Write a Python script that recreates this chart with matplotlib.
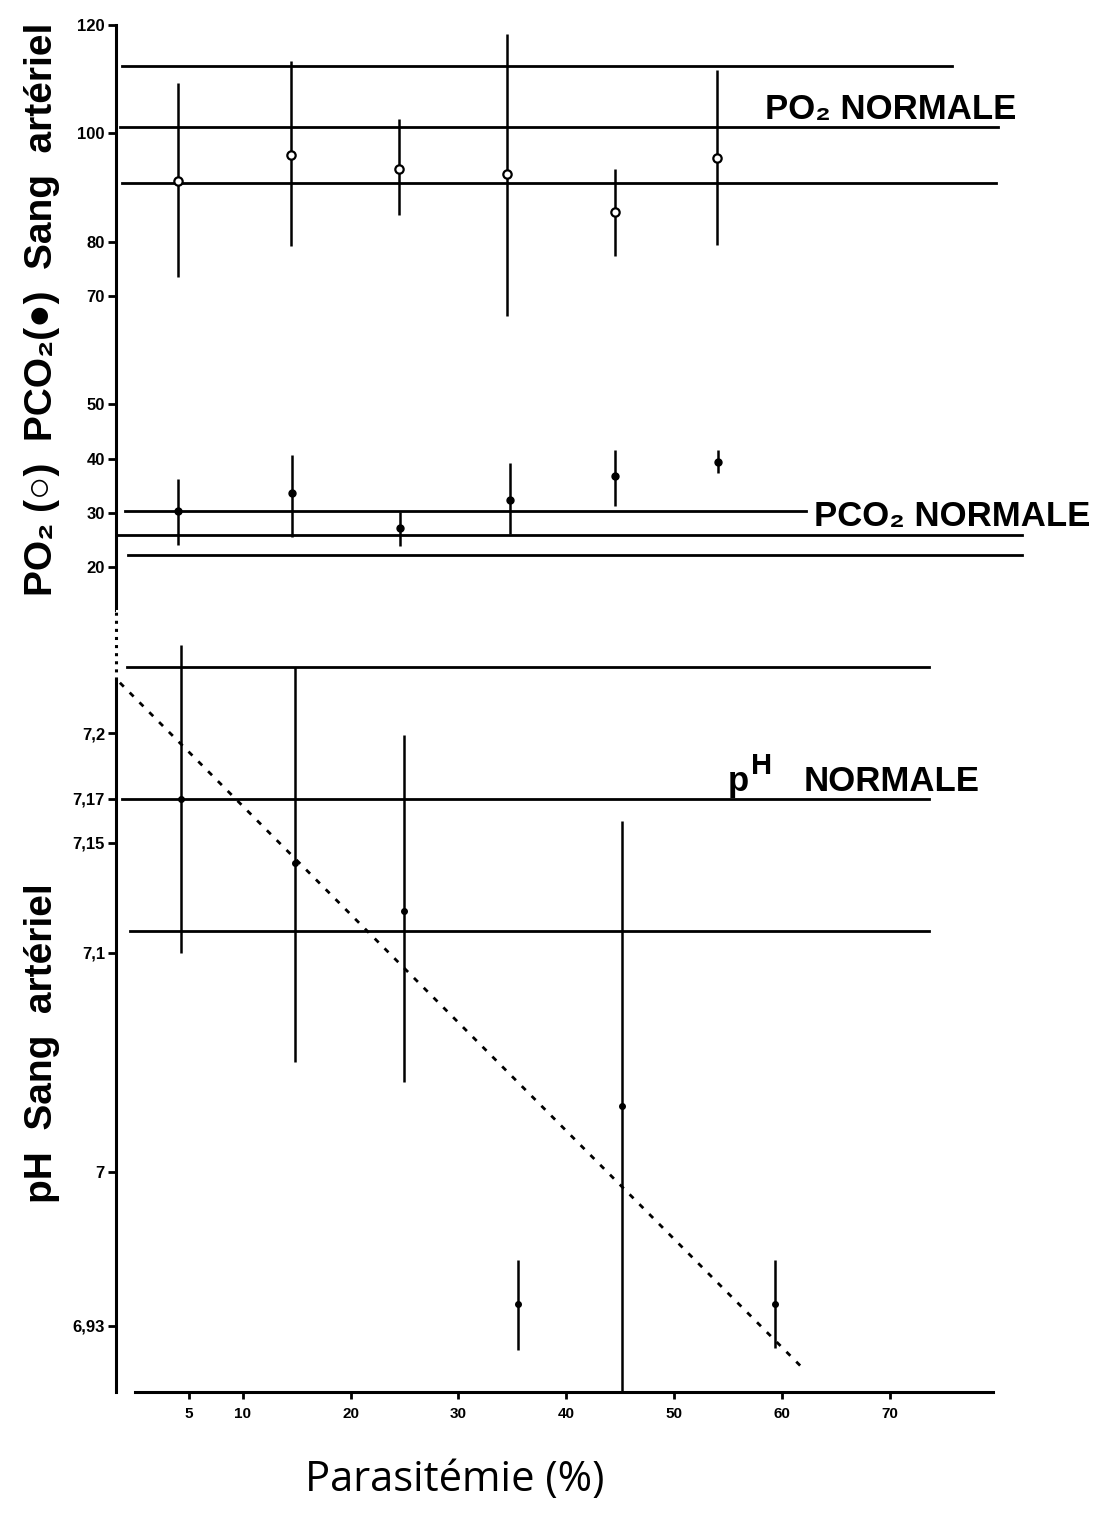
import numpy as np
import matplotlib.pyplot as plt

plt.rcParams['font.family'] = ['Liberation Sans', 'DejaVu Sans']

# parasitemia (%) of each patient group
po2_x = [4.0, 14.5, 24.5, 34.5, 44.5, 54.0]
po2_mean = [91.2, 96.0, 93.4, 92.5, 85.5, 95.5]
po2_low = [73.5, 79.2, 84.9, 66.3, 77.4, 79.4]
po2_high = [109.3, 113.4, 102.7, 118.3, 93.4, 111.7]

pco2_x = [4.0, 14.6, 24.6, 34.8, 44.5, 54.1]
pco2_mean = [30.3, 33.7, 27.2, 32.4, 36.8, 39.4]
pco2_low = [24.1, 25.5, 23.9, 26.1, 31.3, 37.3]
pco2_high = [36.2, 40.7, 30.1, 39.2, 41.6, 41.6]

ph_x = [4.3, 14.8, 25.0, 35.5, 45.2, 59.4]
ph_mean = [7.170, 7.141, 7.119, 6.940, 7.030, 6.940]
ph_low = [7.100, 7.050, 7.041, 6.919, 6.900, 6.920]
ph_high = [7.240, 7.230, 7.199, 6.960, 7.160, 6.960]

# normal reference values
po2_normal = [112.4, 101.2, 90.8]
pco2_normal = [30.4, 25.9, 22.2]
ph_normal = [7.23, 7.17, 7.11]

# linear fit of pH against parasitemia
ph_fit_intercept = 7.216
ph_fit_slope = -0.00493

gas_ticks = [20, 30, 40, 50, 70, 80, 100, 120]
ph_ticks = [6.93, 7.0, 7.1, 7.15, 7.17, 7.2]
ph_ticklabels = ['6,93', '7', '7,1', '7,15', '7,17', '7,2']
x_ticks = [5, 10, 20, 30, 40, 50, 60, 70]

W, H = 1106, 1517
fig = plt.figure(figsize=(W / 100, H / 100), dpi=100)

xlim = (-1.76, 83.95)
left = 116 / W
width = (1040 - 116) / W

ax1 = fig.add_axes([left, 1 - 610 / H, width, 585 / H])
ax2 = fig.add_axes([left, 1 - 1392 / H, width, 782 / H])

LW = 2.2

for ax in (ax1, ax2):
    ax.set_xlim(*xlim)
    ax.spines['top'].set_visible(False)
    ax.spines['right'].set_visible(False)
    ax.spines['left'].set_linewidth(LW)
    ax.spines['bottom'].set_linewidth(LW)
    ax.tick_params(axis='y', direction='out', length=6, width=2, pad=2,
                   labelsize=12)

# --- blood gases ---
ax1.set_ylim(120 - 585 / 5.42, 120)
ax1.spines['bottom'].set_visible(False)
ax1.set_xticks([])
ax1.set_yticks(gas_ticks)
ax1.set_yticklabels([str(t) for t in gas_ticks], fontweight='bold')

po2_span = [(-1.2, 75.8), (-1.4, 80.1), (-1.2, 79.9)]
for y, (a, b) in zip(po2_normal, po2_span):
    ax1.plot([a, b], [y, y], color='black', lw=2, clip_on=False)
pco2_span = [(-0.9, 62.2), (-1.76, 82.3), (-0.65, 82.3)]
for y, (a, b) in zip(pco2_normal, pco2_span):
    ax1.plot([a, b], [y, y], color='black', lw=2, clip_on=False)

ax1.vlines(po2_x, po2_low, po2_high, color='black', lw=1.8)
ax1.plot(po2_x, po2_mean, 'o', ms=6, mfc='white', mec='black', mew=1.6,
         zorder=4)
ax1.vlines(pco2_x, pco2_low, pco2_high, color='black', lw=1.8)
ax1.plot(pco2_x, pco2_mean, 'o', ms=5, color='black', zorder=4)

ax1.text(58.4, 104.5, 'PO₂ NORMALE', fontsize=25, fontweight='bold',
         va='center', ha='left')
ax1.text(63.0, 29.4, 'PCO₂ NORMALE', fontsize=25, fontweight='bold',
         va='center', ha='left')

# --- arterial pH ---
ax2.set_ylim(7 - 220 / 2195, 7 + 562 / 2195)
ax2.spines['left'].set_bounds(7 - 220 / 2195, 7.224)
ax2.plot([xlim[0], xlim[0]], [7.224, 7 + 562 / 2195], color='black',
         lw=LW, ls=':', clip_on=False)
ax2.spines['bottom'].set_bounds(0, 79.6)
ax2.set_yticks(ph_ticks)
ax2.set_yticklabels(ph_ticklabels, fontweight='bold')
ax2.set_xticks(x_ticks)
ax2.set_xticklabels([str(t) for t in x_ticks], fontweight='bold')
ax2.tick_params(axis='x', direction='out', length=5, width=2, pad=6,
                labelsize=11)

ph_span = [(-0.7, 73.7), (-1.2, 73.7), (-0.5, 73.7)]
for y, (a, b) in zip(ph_normal, ph_span):
    ax2.plot([a, b], [y, y], color='black', lw=2)

ax2.vlines(ph_x, ph_low, ph_high, color='black', lw=1.8)
ax2.plot(ph_x, ph_mean, 'o', ms=4, color='black', zorder=4)

fit_x = np.array([-1.4, 61.7])
ax2.plot(fit_x, ph_fit_intercept + ph_fit_slope * fit_x, color='black',
         lw=2, ls=(0, (2, 3)))

ax2.text(55.0, 7.1777, 'p', fontsize=25, fontweight='bold', va='center',
         ha='left')
ax2.text(57.1, 7.1850, 'H', fontsize=21, fontweight='bold', va='center',
         ha='left')
ax2.text(62.0, 7.1777, 'NORMALE', fontsize=25, fontweight='bold',
         va='center', ha='left')

# axis titles
fig.text(42 / W, 1 - 309 / H, 'PO₂ (○)  PCO₂(●)  Sang  artériel',
         rotation=90, fontsize=28, fontweight='bold', ha='center',
         va='center')
fig.text(42 / W, 1 - 1043 / H, 'pH  Sang  artériel', rotation=90,
         fontsize=28, fontweight='bold', ha='center', va='center')
fig.text(455 / W, 1 - 1480 / H, 'Parasitémie (%)', fontsize=30,
         family=['Open Sans', 'DejaVu Sans'], ha='center', va='center')

fig.savefig('out.png', dpi=100)
